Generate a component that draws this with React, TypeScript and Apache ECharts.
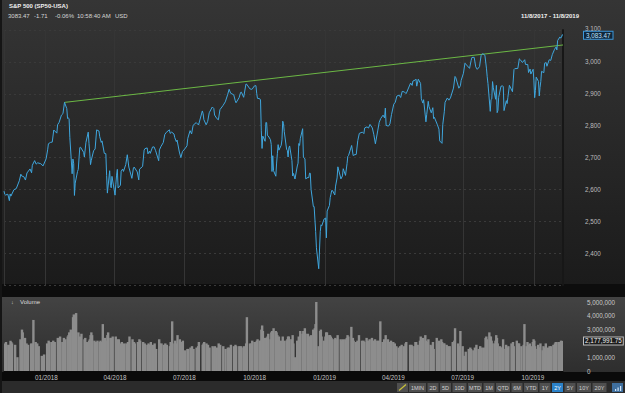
import React, { useEffect, useRef } from 'react';
import * as echarts from 'echarts';

const dates = [
  '2017-11-08','2017-11-09','2017-11-10','2017-11-13','2017-11-15','2017-11-16','2017-11-17','2017-11-21','2017-11-24','2017-11-28','2017-11-30',
  '2017-12-01','2017-12-04','2017-12-06','2017-12-08','2017-12-12','2017-12-14','2017-12-15','2017-12-18','2017-12-20','2017-12-22','2017-12-26','2017-12-29',
  '2018-01-02','2018-01-04','2018-01-05','2018-01-08','2018-01-10','2018-01-12','2018-01-16','2018-01-17','2018-01-19','2018-01-22','2018-01-24','2018-01-26','2018-01-29','2018-01-30','2018-01-31',
  '2018-02-01','2018-02-02','2018-02-05','2018-02-06','2018-02-07','2018-02-08','2018-02-09','2018-02-12','2018-02-13','2018-02-14','2018-02-15','2018-02-16','2018-02-20','2018-02-21','2018-02-23','2018-02-26','2018-02-27','2018-02-28',
  '2018-03-01','2018-03-02','2018-03-05','2018-03-07','2018-03-09','2018-03-12','2018-03-13','2018-03-15','2018-03-16','2018-03-19','2018-03-21','2018-03-22','2018-03-23','2018-03-26','2018-03-27','2018-03-28','2018-03-29',
  '2018-04-02','2018-04-03','2018-04-04','2018-04-05','2018-04-06','2018-04-09','2018-04-10','2018-04-12','2018-04-13','2018-04-16','2018-04-18','2018-04-20','2018-04-24','2018-04-26','2018-04-27',
  '2018-05-01','2018-05-03','2018-05-04','2018-05-08','2018-05-10','2018-05-11','2018-05-14','2018-05-15','2018-05-17','2018-05-18','2018-05-21','2018-05-23','2018-05-25','2018-05-29','2018-05-30',
  '2018-06-01','2018-06-04','2018-06-06','2018-06-08','2018-06-12','2018-06-13','2018-06-15','2018-06-18','2018-06-19','2018-06-21','2018-06-22','2018-06-25','2018-06-27','2018-06-29',
  '2018-07-02','2018-07-05','2018-07-06','2018-07-09','2018-07-11','2018-07-13','2018-07-17','2018-07-19','2018-07-20','2018-07-25','2018-07-26','2018-07-27','2018-07-30',
  '2018-08-01','2018-08-03','2018-08-07','2018-08-09','2018-08-10','2018-08-13','2018-08-15','2018-08-17','2018-08-21','2018-08-24','2018-08-27','2018-08-29','2018-08-31',
  '2018-09-04','2018-09-06','2018-09-07','2018-09-11','2018-09-13','2018-09-14','2018-09-17','2018-09-20','2018-09-21','2018-09-25','2018-09-27','2018-09-28',
  '2018-10-01','2018-10-03','2018-10-04','2018-10-05','2018-10-08','2018-10-09','2018-10-10','2018-10-11','2018-10-12','2018-10-15','2018-10-16','2018-10-17','2018-10-18','2018-10-19','2018-10-22','2018-10-23','2018-10-24','2018-10-25','2018-10-26','2018-10-29','2018-10-30','2018-10-31',
  '2018-11-01','2018-11-02','2018-11-05','2018-11-06','2018-11-07','2018-11-08','2018-11-09','2018-11-12','2018-11-13','2018-11-14','2018-11-15','2018-11-16','2018-11-19','2018-11-20','2018-11-21','2018-11-23','2018-11-26','2018-11-27','2018-11-28','2018-11-29','2018-11-30',
  '2018-12-03','2018-12-04','2018-12-06','2018-12-07','2018-12-10','2018-12-11','2018-12-12','2018-12-13','2018-12-14','2018-12-17','2018-12-18','2018-12-19','2018-12-20','2018-12-21','2018-12-24','2018-12-26','2018-12-27','2018-12-28','2018-12-31',
  '2019-01-02','2019-01-03','2019-01-04','2019-01-07','2019-01-08','2019-01-09','2019-01-10','2019-01-11','2019-01-14','2019-01-15','2019-01-17','2019-01-18','2019-01-22','2019-01-24','2019-01-25','2019-01-28','2019-01-30','2019-01-31',
  '2019-02-01','2019-02-05','2019-02-07','2019-02-08','2019-02-11','2019-02-13','2019-02-15','2019-02-19','2019-02-21','2019-02-22','2019-02-25','2019-02-27',
  '2019-03-01','2019-03-04','2019-03-06','2019-03-08','2019-03-11','2019-03-13','2019-03-15','2019-03-18','2019-03-20','2019-03-21','2019-03-22','2019-03-25','2019-03-27','2019-03-29',
  '2019-04-01','2019-04-03','2019-04-05','2019-04-08','2019-04-10','2019-04-12','2019-04-15','2019-04-17','2019-04-18','2019-04-23','2019-04-25','2019-04-26','2019-04-29','2019-04-30',
  '2019-05-01','2019-05-03','2019-05-06','2019-05-07','2019-05-09','2019-05-10','2019-05-13','2019-05-14','2019-05-16','2019-05-17','2019-05-20','2019-05-22','2019-05-23','2019-05-24','2019-05-28','2019-05-30','2019-05-31',
  '2019-06-03','2019-06-04','2019-06-06','2019-06-07','2019-06-10','2019-06-12','2019-06-14','2019-06-18','2019-06-20','2019-06-21','2019-06-25','2019-06-27','2019-06-28',
  '2019-07-01','2019-07-03','2019-07-05','2019-07-09','2019-07-11','2019-07-12','2019-07-15','2019-07-17','2019-07-19','2019-07-22','2019-07-24','2019-07-26','2019-07-29','2019-07-31',
  '2019-08-01','2019-08-02','2019-08-05','2019-08-06','2019-08-07','2019-08-08','2019-08-09','2019-08-12','2019-08-13','2019-08-14','2019-08-15','2019-08-16','2019-08-19','2019-08-21','2019-08-22','2019-08-23','2019-08-26','2019-08-27','2019-08-28','2019-08-30',
  '2019-09-03','2019-09-05','2019-09-06','2019-09-10','2019-09-12','2019-09-13','2019-09-16','2019-09-19','2019-09-20','2019-09-23','2019-09-24','2019-09-26','2019-09-27','2019-09-30',
  '2019-10-01','2019-10-02','2019-10-03','2019-10-04','2019-10-07','2019-10-08','2019-10-09','2019-10-10','2019-10-11','2019-10-14','2019-10-15','2019-10-17','2019-10-18','2019-10-21','2019-10-23','2019-10-25','2019-10-28','2019-10-30','2019-10-31',
  '2019-11-01','2019-11-04','2019-11-05','2019-11-06','2019-11-07','2019-11-08',
];

const closes = [
  2594.38,2584.62,2582.30,2584.84,2564.62,2585.64,2578.85,2599.03,2602.42,2627.04,2647.58,
  2642.22,2639.44,2629.27,2651.50,2664.11,2652.01,2675.81,2690.16,2679.25,2683.34,2680.50,2673.61,
  2695.81,2723.99,2743.15,2747.71,2748.23,2786.24,2776.42,2802.56,2810.30,2832.97,2837.54,2872.87,2853.53,2822.43,2823.81,
  2821.98,2762.13,2648.94,2695.14,2681.66,2581.00,2619.55,2656.00,2662.94,2698.63,2731.20,2732.22,2716.26,2701.33,2747.30,2779.60,2744.28,2713.83,
  2677.67,2691.25,2720.94,2726.80,2786.57,2783.02,2765.31,2747.33,2752.01,2712.92,2711.93,2643.69,2588.26,2658.55,2612.62,2605.00,2640.87,
  2581.88,2614.45,2644.69,2662.84,2604.47,2613.16,2656.87,2663.99,2656.30,2677.84,2708.64,2670.14,2634.56,2666.94,2669.91,
  2654.80,2629.73,2663.42,2671.92,2723.07,2727.72,2730.13,2711.45,2720.13,2712.97,2733.01,2733.29,2721.33,2689.86,2724.01,
  2734.62,2746.87,2772.35,2779.03,2786.85,2775.63,2779.66,2773.75,2762.59,2749.76,2754.88,2717.07,2699.63,2718.37,
  2726.71,2736.61,2759.82,2784.17,2774.02,2801.31,2809.55,2804.49,2801.83,2846.07,2837.44,2818.82,2802.60,
  2813.36,2840.35,2858.45,2853.58,2833.28,2821.93,2818.37,2850.13,2862.96,2874.69,2896.74,2914.04,2901.52,
  2896.72,2878.05,2871.68,2887.89,2904.18,2904.98,2888.80,2930.75,2929.67,2915.56,2914.00,2913.98,
  2924.59,2925.51,2901.61,2885.57,2884.43,2880.34,2785.68,2728.37,2767.13,2750.79,2809.92,2809.21,2768.78,2767.78,2755.88,2740.69,2656.10,2705.57,2658.69,2641.25,2682.63,2711.74,
  2740.37,2723.06,2738.31,2755.45,2813.89,2806.83,2781.01,2726.22,2722.18,2701.58,2730.20,2736.27,2690.73,2641.89,2649.93,2632.56,2673.45,2682.17,2743.79,2737.80,2760.17,
  2790.37,2700.06,2695.95,2633.08,2637.72,2636.78,2651.07,2650.54,2599.95,2545.94,2546.16,2506.96,2467.42,2416.62,2351.10,2467.70,2488.83,2485.74,2506.85,
  2510.03,2447.89,2531.94,2549.69,2574.41,2584.96,2596.64,2596.26,2582.61,2610.30,2635.96,2670.71,2632.90,2642.33,2664.76,2643.85,2681.05,2704.10,
  2706.53,2737.70,2706.05,2707.88,2709.80,2753.03,2775.60,2779.76,2774.88,2792.67,2796.11,2792.38,
  2803.69,2792.81,2771.45,2743.07,2783.30,2810.92,2822.48,2832.94,2824.23,2854.88,2800.71,2798.36,2805.37,2834.40,
  2867.19,2873.40,2892.74,2895.77,2888.21,2907.41,2905.58,2900.45,2905.03,2933.68,2926.17,2939.88,2943.03,2945.83,
  2923.73,2945.64,2932.47,2884.05,2870.72,2881.40,2811.87,2834.41,2876.32,2859.53,2840.23,2856.27,2822.24,2826.06,2802.39,2788.86,2752.06,
  2744.45,2803.27,2843.49,2873.34,2886.73,2879.84,2886.98,2917.75,2954.18,2950.46,2917.38,2924.92,2941.76,
  2964.33,2995.82,2990.41,2979.63,3004.04,3013.77,3014.30,2984.42,2976.61,2985.03,3019.56,3025.86,3020.97,2980.38,
  2953.56,2932.05,2844.74,2881.77,2883.98,2938.09,2918.65,2882.70,2926.32,2840.60,2847.60,2888.68,2923.65,2924.43,2922.95,2847.11,2878.38,2869.16,2887.94,2926.46,
  2906.27,2976.00,2978.71,2979.39,3009.57,3007.39,2997.96,3006.79,2992.07,2991.78,2966.60,2977.62,2961.79,2976.74,
  2940.25,2887.61,2910.63,2952.01,2938.79,2893.06,2919.40,2938.13,2970.27,2966.15,2995.68,2997.95,2986.20,3006.72,3004.52,3022.55,3039.42,3046.77,3037.56,
  3066.91,3078.27,3074.62,3076.78,3085.18,3083.47,
];

// volume in millions of chart units
const volumesM = [
  2.0,2.1,1.9,1.9,2.2,2.1,2.0,1.9,1.0,2.3,3.0,
  2.8,2.4,2.0,1.9,2.0,2.0,3.7,2.1,2.0,1.8,1.1,1.2,
  2.0,2.2,2.1,2.1,2.2,2.1,2.4,2.3,2.5,2.1,2.4,2.3,2.5,2.6,2.8,
  2.5,3.0,3.9,4.1,3.1,3.6,4.2,2.8,2.3,2.5,2.4,2.7,2.3,2.4,2.1,2.2,2.3,2.6,
  2.8,2.6,2.2,2.1,2.2,2.1,2.2,2.1,3.4,2.4,2.2,2.6,2.8,2.4,2.4,2.3,2.5,
  2.5,2.2,2.3,2.0,2.3,2.0,2.1,1.9,2.0,2.0,2.1,2.5,2.3,2.1,2.0,
  2.1,2.3,2.2,2.1,2.0,1.9,1.9,2.0,1.9,2.1,1.9,2.0,1.6,2.3,2.0,
  2.0,1.9,2.0,1.9,1.8,2.1,3.6,2.0,2.2,2.0,2.6,2.3,2.1,2.2,
  1.5,1.6,1.6,1.7,1.8,1.6,1.7,1.8,2.1,1.9,2.0,2.1,2.0,
  1.9,1.7,1.8,1.7,1.8,1.7,2.0,1.9,1.8,1.6,1.7,1.7,1.9,
  1.8,1.9,1.8,1.8,1.8,1.7,1.8,2.0,3.9,2.0,2.0,2.2,
  2.1,2.1,2.2,2.3,2.2,2.2,3.0,3.3,2.9,2.4,2.4,2.4,2.5,2.7,2.3,2.8,2.9,2.9,3.1,2.9,2.8,2.6,
  2.4,2.5,2.2,2.1,2.5,2.1,2.2,2.2,2.3,2.5,2.5,2.3,2.3,2.6,2.0,1.0,2.2,2.1,2.5,2.2,2.9,
  2.7,2.9,3.1,2.7,2.7,2.5,2.5,2.4,2.6,3.0,2.8,3.1,3.4,5.0,1.8,2.9,3.0,2.5,2.2,
  2.5,2.8,2.8,2.6,2.6,2.5,2.4,2.3,2.3,2.4,2.3,2.6,2.3,2.2,2.3,2.3,2.4,2.6,
  2.5,3.2,2.4,2.2,2.1,2.2,2.6,2.2,2.2,2.1,2.4,2.2,
  2.3,2.4,2.2,2.3,2.2,2.2,3.6,2.1,2.3,2.2,2.6,2.3,2.1,2.2,
  2.1,2.0,1.8,1.7,1.8,1.9,1.8,2.0,2.1,1.9,1.9,1.8,1.8,2.1,
  2.1,1.9,2.2,2.5,2.3,2.4,2.6,2.2,2.1,2.3,1.9,1.8,2.1,1.6,2.4,2.0,2.2,
  2.3,2.1,2.0,2.0,1.9,1.8,1.8,2.1,2.2,3.1,2.0,1.8,2.9,
  1.8,1.1,1.4,1.6,1.7,1.6,1.5,1.7,1.9,1.6,1.8,1.7,1.7,2.4,
  2.5,2.3,2.8,2.5,2.5,2.2,2.0,2.0,2.2,2.6,2.4,2.0,1.8,1.7,1.7,2.3,1.6,1.9,1.7,1.8,
  2.0,2.1,1.8,2.2,2.0,2.0,1.8,1.9,3.4,1.8,2.1,1.9,2.0,1.8,
  2.1,2.3,2.2,1.8,1.6,1.9,1.7,1.7,2.0,1.5,1.8,1.7,2.0,1.7,1.8,1.8,1.9,2.0,2.1,
  2.1,2.1,2.1,2.1,2.2,2.17799175,
];

const trendDates = ['2018-01-26', '2019-11-08'];
const trendValues = [2872.87, 3053];

const titleText = 'S&P 500 (SP50-USA)';
const quoteParts = ['3083.47', '-1.71', '-0.06%', '10:58:40 AM', 'USD'];
const rangeText = '11/8/2017 - 11/8/2019';
const rangeButtons = ['1MIN', '2D', '5D', '10D', 'MTD', '1M', 'QTD', '6M', 'YTD', '1Y', '2Y', '5Y', '10Y', '20Y'];
const activeButton = '2Y';
const volumeLabel = 'Volume';

const FONT = 'Liberation Sans, Arial, sans-serif';
const AXIS_FS = 6.3;

const fmtInt = (v: number) => Math.round(v).toLocaleString('en-US');
const fmtDate = (v: number) => {
  const d = new Date(v);
  return String(d.getMonth() + 1).padStart(2, '0') + '/' + d.getFullYear();
};

export default function App() {
  const ref = useRef<HTMLDivElement>(null);

  useEffect(() => {
    document.body.style.margin = '0';
    const chart = echarts.init(ref.current!, null, { renderer: 'svg' });

    const lastClose = closes[closes.length - 1];
    const lastVol = volumesM[volumesM.length - 1] * 1e6;
    const priceMax = 3100;
    const volHidden = 2000000; // tick label covered by the last-volume box

    // toolbar layout
    const buttons: any[] = [];
    let bx = 409;
    const by = 383;
    const bh = 9;
    buttons.push({
      type: 'rect', shape: { x: 397, y: by, width: 11, height: bh }, style: { fill: '#4f4f4f' }, z: 50,
    });
    buttons.push({
      type: 'line', shape: { x1: 399, y1: by + bh - 1.5, x2: 406, y2: by + 1.5 }, style: { stroke: '#c9c23a', lineWidth: 1.2 }, z: 51,
    });
    rangeButtons.forEach((b) => {
      const w = b.length === 2 ? 11 : b.length === 3 ? 14 : 17;
      const active = b === activeButton;
      buttons.push({
        type: 'rect', shape: { x: bx, y: by, width: w, height: bh },
        style: { fill: active ? '#2b82c9' : '#4f4f4f' }, z: 50,
      });
      buttons.push({
        type: 'text', x: bx + w / 2, y: by + bh / 2 + 0.5,
        style: { text: b, fill: active ? '#ffffff' : '#d2d2d2', font: `5.5px ${FONT}`, align: 'center', verticalAlign: 'middle' }, z: 51,
      });
      bx += w + 1.5;
    });
    buttons.push({
      type: 'rect', shape: { x: 612, y: by, width: 11, height: bh }, style: { fill: '#3f6f9e' }, z: 50,
    });
    [615, 617.5, 620].forEach((lx, i) => {
      buttons.push({
        type: 'rect', shape: { x: lx, y: by + 6 - i * 1.5, width: 1.2, height: 2 + i * 1.5 }, style: { fill: '#cfe4f7' }, z: 51,
      });
    });

    const quoteX = [8, 34, 55, 77, 115];

    const graphics: any[] = [
      {
        type: 'rect', z: -100, silent: true, shape: { x: 0, y: 0, width: 625, height: 284 },
        style: {
          fill: new echarts.graphic.LinearGradient(0, 0, 0, 1, [
            { offset: 0, color: '#353535' },
            { offset: 1, color: '#1b1b1b' },
          ]),
        },
      },
      { type: 'rect', z: -100, silent: true, shape: { x: 0, y: 284, width: 625, height: 13 }, style: { fill: '#0d0d0d' } },
      {
        type: 'rect', z: -100, silent: true, shape: { x: 0, y: 297, width: 625, height: 75 },
        style: {
          fill: new echarts.graphic.LinearGradient(0, 0, 0, 1, [
            { offset: 0, color: '#434343' },
            { offset: 1, color: '#2e2e2e' },
          ]),
        },
      },
      { type: 'rect', z: -100, silent: true, shape: { x: 0, y: 372, width: 625, height: 9 }, style: { fill: '#0a0a0a' } },
      { type: 'rect', z: -100, silent: true, shape: { x: 0, y: 381, width: 625, height: 12 }, style: { fill: '#2b2b2b' } },
      { type: 'rect', z: 60, silent: true, shape: { x: 0, y: 0, width: 2, height: 393 }, style: { fill: '#151515' } },
      {
        type: 'text', x: 9, y: 3, z: 100,
        style: { text: titleText, fill: '#f0f0f0', font: `bold 6px ${FONT}` },
      },
      ...quoteParts.map((t, i) => ({
        type: 'text', x: quoteX[i], y: 12.5, z: 100,
        style: { text: t, fill: '#d6d6d6', font: `6px ${FONT}` },
      })),
      {
        type: 'text', x: 579, y: 12.5, z: 100,
        style: { text: rangeText, fill: '#f0f0f0', font: `bold 6px ${FONT}`, align: 'right' },
      },
      {
        type: 'text', x: 11, y: 299, z: 100,
        style: { text: '↓', fill: '#cfcfcf', font: `5.5px ${FONT}` },
      },
      {
        type: 'text', x: 20, y: 299, z: 100,
        style: { text: volumeLabel, fill: '#dcdcdc', font: `6px ${FONT}` },
      },
      ...buttons,
    ];

    const option: any = {
      animation: false,
      backgroundColor: '#1c1c1c',
      textStyle: { fontFamily: FONT },
      grid: [
        { left: 4, right: 62, top: 30, height: 255 },
        { left: 4, right: 62, top: 302, height: 69 },
      ],
      xAxis: [
        {
          gridIndex: 0, type: 'time', min: dates[0], max: dates[dates.length - 1], splitNumber: 8,
          axisLabel: { show: false }, axisTick: { show: false }, axisLine: { show: false },
          splitLine: { show: true, lineStyle: { color: '#353535', width: 1 } },
        },
        {
          gridIndex: 1, type: 'time', min: dates[0], max: dates[dates.length - 1], splitNumber: 8,
          axisLabel: {
            show: true, color: '#c4c4c4', fontSize: AXIS_FS, margin: 3, formatter: fmtDate,
            showMinLabel: false, showMaxLabel: false,
          },
          axisTick: { show: false },
          axisLine: { show: true, lineStyle: { color: '#0a0a0a', width: 1 } },
          splitLine: { show: false },
        },
      ],
      yAxis: [
        {
          gridIndex: 0, type: 'value', position: 'right', min: 2300, max: priceMax, interval: 100,
          axisLabel: {
            color: '#bdbdbd', fontSize: AXIS_FS, margin: 22, showMinLabel: false,
            formatter: (v: number) => (v === priceMax ? `{top|${fmtInt(v)}}` : fmtInt(v)),
            rich: { top: { color: '#bdbdbd', fontSize: AXIS_FS, padding: [0, 0, 3, 0] } },
          },
          axisTick: { show: false },
          axisLine: { show: true, lineStyle: { color: '#171717', width: 2 } },
          splitLine: { show: true, lineStyle: { color: '#3a3a3a', type: [2, 3], width: 1 } },
        },
        {
          gridIndex: 1, type: 'value', position: 'right', min: 0, max: 5000000, interval: 1000000,
          axisLabel: {
            color: '#c8c8c8', fontSize: AXIS_FS, margin: 24,
            formatter: (v: number) => (v === volHidden ? '' : fmtInt(v)),
          },
          axisTick: { show: false },
          axisLine: { show: false },
          splitLine: { show: false },
        },
      ],
      series: [
        {
          name: 'Trend', type: 'line', xAxisIndex: 0, yAxisIndex: 0,
          data: trendDates.map((d, i) => [d, trendValues[i]]),
          showSymbol: false, silent: true, z: 2,
          lineStyle: { color: '#6cb845', width: 1 },
        },
        {
          name: 'S&P 500', type: 'line', xAxisIndex: 0, yAxisIndex: 0,
          data: dates.map((d, i) => [d, closes[i]]),
          showSymbol: false, silent: true, z: 3,
          lineStyle: { color: '#3fa6dd', width: 1 },
        },
        {
          name: 'Volume', type: 'bar', xAxisIndex: 1, yAxisIndex: 1,
          data: dates.map((d, i) => [d, volumesM[i] * 1e6]),
          barWidth: 2.4, silent: true,
          itemStyle: { color: '#8d8d8d' },
        },
      ],
      graphic: graphics,
    };

    chart.setOption(option);

    // last-value boxes placed through the axes' own scales
    const py = chart.convertToPixel({ yAxisIndex: 0 }, lastClose) as number;
    const vy = chart.convertToPixel({ yAxisIndex: 1 }, lastVol) as number;
    const boxes = [
      {
        type: 'text', x: 584, y: py, z: 120,
        style: {
          text: lastClose.toLocaleString('en-US', { minimumFractionDigits: 2 }),
          fill: '#bfe2ff', font: `${AXIS_FS}px ${FONT}`, verticalAlign: 'middle',
          backgroundColor: '#10263a', borderColor: '#3c97da', borderWidth: 1, padding: [1, 2, 0, 2],
        },
      },
      {
        type: 'text', x: 584, y: vy, z: 120,
        style: {
          text: lastVol.toLocaleString('en-US', { minimumFractionDigits: 2, maximumFractionDigits: 2 }),
          fill: '#f2f2f2', font: `${AXIS_FS}px ${FONT}`, verticalAlign: 'middle',
          backgroundColor: '#1d1d1d', borderColor: '#bdbdbd', borderWidth: 1, padding: [1, 1, 0, 1],
        },
      },
    ];
    chart.setOption({ graphic: [...graphics, ...boxes] });

    return () => chart.dispose();
  }, []);

  return <div ref={ref} style={{ width: 625, height: 393 }} />;
}
